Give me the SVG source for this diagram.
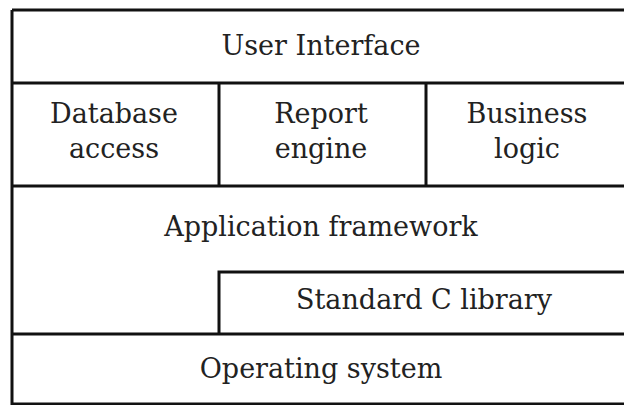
<svg xmlns="http://www.w3.org/2000/svg" width="624" height="405" viewBox="0 0 624 405">
<style>
.ln{stroke:#111;stroke-width:3;fill:none}
.t{font-family:"DejaVu Serif","Liberation Serif",serif;font-size:27px;fill:#222;text-anchor:middle}
</style>
<rect width="624" height="405" fill="#fff"/>
<g id="connectors">
<path class="ln" d="M12,10 H624 M12,10 V404 H624 M12,83 H624 M12,186 H624 M219,83 V186 M426,83 V186 M219,334 V272 H624 M12,334 H624"/>
</g>
<g id="user-interface"><text class="t" x="321" y="55">User Interface</text></g>
<g id="database-access"><text class="t" x="114" y="123">Database</text><text class="t" x="114" y="158">access</text></g>
<g id="report-engine"><text class="t" x="321" y="123">Report</text><text class="t" x="321" y="158">engine</text></g>
<g id="business-logic"><text class="t" x="527" y="123">Business</text><text class="t" x="527" y="158">logic</text></g>
<g id="application-framework"><text class="t" x="321" y="236">Application framework</text></g>
<g id="standard-c-library"><text class="t" x="424" y="309">Standard C library</text></g>
<g id="operating-system"><text class="t" x="321" y="378">Operating system</text></g>
</svg>
